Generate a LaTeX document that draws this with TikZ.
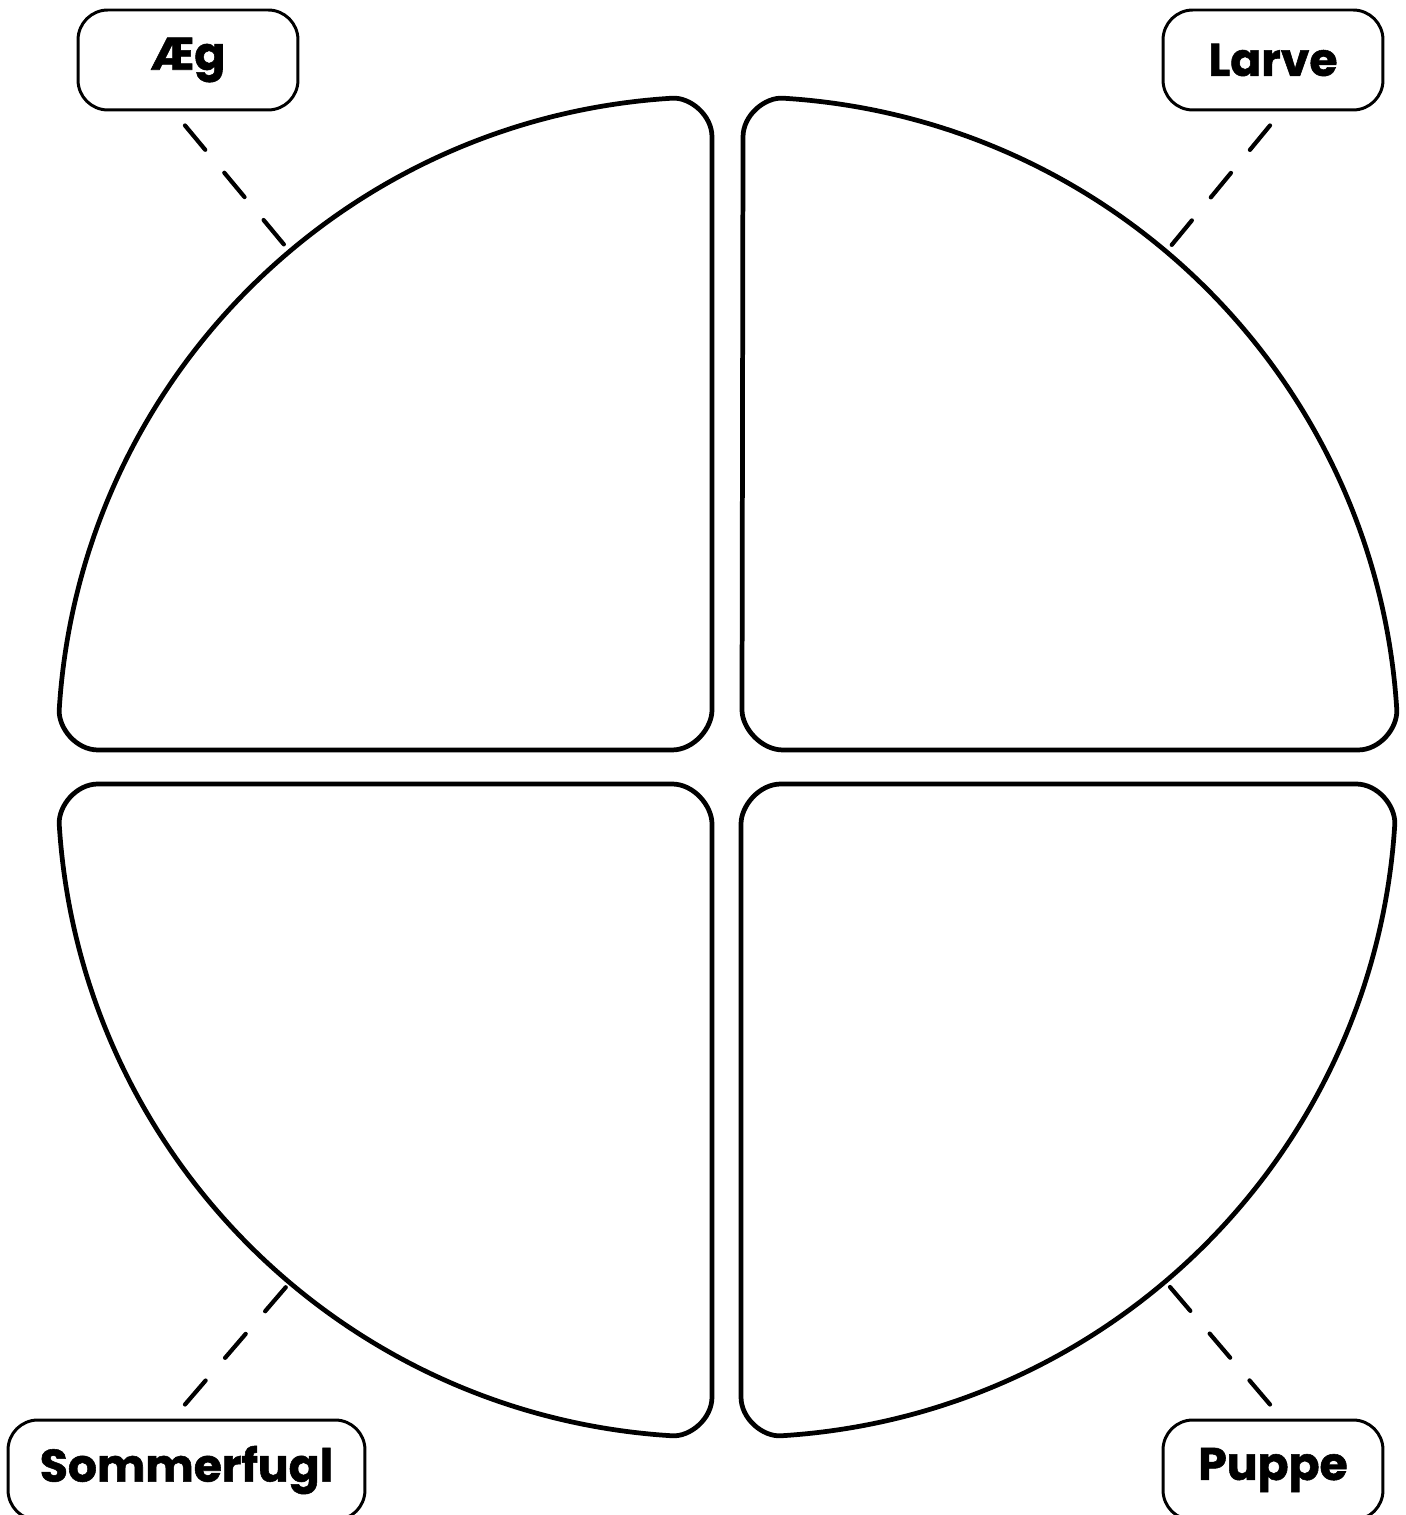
\documentclass[tikz,border=0pt]{standalone}
\usepackage{fontspec}
\newfontfamily\labelfont{Poppins}[BoldFeatures={FakeBold=1.2}]
\begin{document}
\begin{tikzpicture}[x=0.02cm,y=0.02cm,
  quad/.style={draw=black,line width=2.7pt,line join=round,fill=white},
  lbl/.style={draw=black,line width=1.7pt,rounded corners=17pt,fill=white,
    minimum width=4.4cm,minimum height=2cm,inner sep=0pt,
    font=\labelfont\fontsize{26pt}{30pt}\selectfont\bfseries},
  dashline/.style={line width=2.4pt,line cap=round,dash pattern=on 18pt off 17pt}]
\useasboundingbox (0,0) rectangle (1406,1515);
\clip (0,0) rectangle (1406,1515);
% quadrants
\draw[quad] (98,765) .. controls (76,765) and (58.5,787) .. (59.2,804.9)
  arc[start angle=176.5,end angle=93.5,x radius=654,y radius=653]
  .. controls (690,1418) and (712,1400) .. (712,1378) -- (712,805)
  .. controls (712,787) and (694,765) .. (672,765) -- cycle;
\draw[quad] (783,765) -- (1358,765) .. controls (1380,765) and (1397.5,787) .. (1396.8,804.9)
  arc[start angle=3.5,end angle=86.5,x radius=655,y radius=653]
  .. controls (765,1418) and (743,1400) .. (743,1378) -- (742,805)
  .. controls (742,787) and (761,765) .. cycle;
\draw[quad] (98,731) .. controls (76,731) and (58.5,709) .. (59.2,691.1)
  arc[start angle=183.5,end angle=266.5,x radius=654,y radius=653]
  .. controls (690,78) and (712,96) .. (712,118) -- (712,691)
  .. controls (712,709) and (694,731) .. (672,731) -- cycle;
\draw[quad] (781,731) -- (1356,731) .. controls (1378,731) and (1395.5,709) .. (1394.8,691.1)
  arc[start angle=-3.5,end angle=-86.5,x radius=655,y radius=653]
  .. controls (763,78) and (741,96) .. (741,118) -- (741,691)
  .. controls (741,709) and (759,731) .. cycle;
% labels
\node[lbl] (aeg) at (188,1455) {Æg};
\node[lbl] (larve) at (1273,1455) {Larve};
\node[lbl,minimum width=7.14cm] (sommer) at (186.5,45) {Sommerfugl};
\node[lbl] (puppe) at (1273,45) {Puppe};
% connector ends
\coordinate (aegend) at (286,1268);
\coordinate (larveend) at (1170,1268);
\coordinate (sommerend) at (286,228);
\coordinate (puppeend) at (1170,228);
\draw[dashline] ([xshift=-0.06cm,yshift=-0.28cm]aeg.south) -- (aegend);
\draw[dashline] ([xshift=-0.06cm,yshift=-0.28cm]larve.south) -- (larveend);
\draw[dashline] ([xshift=-0.03cm,yshift=0.28cm]sommer.north) -- (sommerend);
\draw[dashline] ([xshift=-0.06cm,yshift=0.28cm]puppe.north) -- (puppeend);
\end{tikzpicture}
\end{document}
